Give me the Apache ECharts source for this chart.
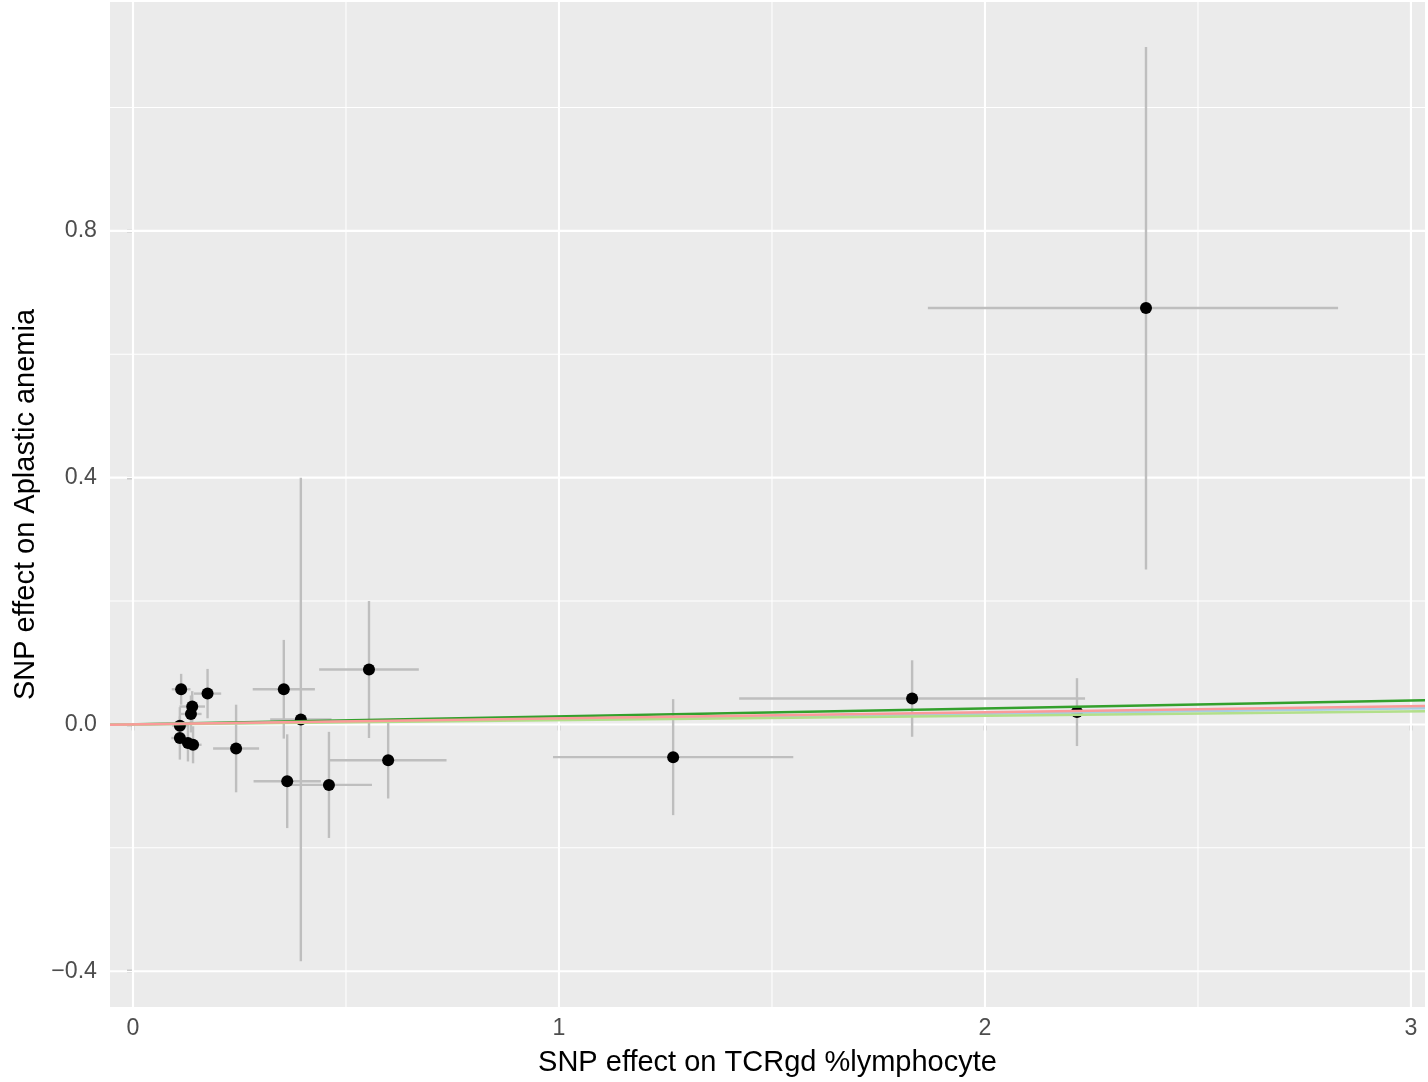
<!DOCTYPE html>
<html>
<head>
<meta charset="utf-8">
<script src="https://cdn.jsdelivr.net/npm/echarts@6/dist/echarts.min.js"></script>
<style>
html,body{margin:0;padding:0;background:#fff;}
#chart{width:1428px;height:1082px;}
</style>
</head>
<body>
<div id="chart"></div>
<script>
// ---- data ----
var snpX  = [0.113, 0.175, 0.139, 0.136, 0.110, 0.110, 0.129, 0.141, 0.242, 0.362, 0.354, 0.394, 0.460, 0.554, 0.599, 1.268, 1.829, 2.216, 2.378];
var snpY  = [0.057, 0.050, 0.029, 0.017, -0.002, -0.022, -0.030, -0.033, -0.039, -0.092, 0.057, 0.008, -0.098, 0.089, -0.058, -0.053, 0.042, 0.020, 0.675];
var xLow  = [0.091, 0.143, 0.109, 0.111, 0.092, 0.090, 0.104, 0.121, 0.188, 0.283, 0.281, 0.322, 0.359, 0.437, 0.462, 0.986, 1.423, 2.116, 1.866];
var xHigh = [0.135, 0.207, 0.169, 0.161, 0.128, 0.130, 0.154, 0.161, 0.296, 0.441, 0.427, 0.466, 0.561, 0.671, 0.736, 1.550, 2.235, 2.316, 2.829];
var yLow  = [0.032, 0.010, 0.004, -0.013, -0.032, -0.057, -0.060, -0.063, -0.110, -0.168, -0.023, -0.384, -0.184, -0.022, -0.120, -0.147, -0.020, -0.035, 0.251];
var yHigh = [0.082, 0.090, 0.054, 0.047, 0.028, 0.013, 0.000, -0.003, 0.032, -0.016, 0.137, 0.400, -0.012, 0.200, 0.004, 0.041, 0.104, 0.075, 1.098];

var methodNames  = ["Weighted median", "Inverse variance weighted", "Simple mode", "Weighted mode"];
var lineX        = [-0.054, 3.033];
var methodYStart = [-0.0007, -0.0005, -0.0004, -0.0005];
var methodYEnd   = [0.0392, 0.0262, 0.0214, 0.0300];

var xTicks = [0, 1, 2, 3];
var yTicks = [-0.4, 0, 0.4, 0.8];
var xMinor = [0.5, 1.5, 2.5];
var yMinor = [-0.2, 0.2, 0.6, 1.0];

// ---- styles ----
var methodColors = ["#33a02c", "#a6cee3", "#b2df8a", "#fb9a99"];
var FONT = "Liberation Sans, Arial, Helvetica, sans-serif";

var gridData = [];
xTicks.forEach(function(v){ gridData.push([0, v, 1]); });
xMinor.forEach(function(v){ gridData.push([0, v, 0]); });
yTicks.forEach(function(v){ gridData.push([1, v, 1]); });
yMinor.forEach(function(v){ gridData.push([1, v, 0]); });

var errData = snpX.map(function(x, i){ return [x, snpY[i], xLow[i], xHigh[i], yLow[i], yHigh[i]]; });
var ptData  = snpX.map(function(x, i){ return [x, snpY[i]]; });

var series = [];
series.push({
  type: 'custom',
  name: 'grid',
  silent: true,
  z: 1,
  data: gridData,
  encode: {x: -1, y: -1},
  renderItem: function(params, api){
    var cs = params.coordSys;
    var dir = api.value(0), v = api.value(1), major = api.value(2);
    var w = major ? 2.1 : 1.05;
    if (dir === 0) {
      var px = api.coord([v, 0])[0];
      return {type:'line', shape:{x1:px, y1:cs.y, x2:px, y2:cs.y+cs.height}, style:{stroke:'#ffffff', lineWidth:w}};
    } else {
      var py = api.coord([0, v])[1];
      return {type:'line', shape:{x1:cs.x, y1:py, x2:cs.x+cs.width, y2:py}, style:{stroke:'#ffffff', lineWidth:w}};
    }
  }
});
series.push({
  type: 'custom',
  name: 'errorbars',
  silent: true,
  z: 2,
  data: errData,
  encode: {x: 0, y: 1},
  renderItem: function(params, api){
    var x = api.value(0), y = api.value(1);
    var h1 = api.coord([api.value(2), y]), h2 = api.coord([api.value(3), y]);
    var v1 = api.coord([x, api.value(4)]), v2 = api.coord([x, api.value(5)]);
    var st = {stroke:'#BEBEBE', lineWidth:2.4};
    return {type:'group', children:[
      {type:'line', shape:{x1:h1[0], y1:h1[1], x2:h2[0], y2:h2[1]}, style:st},
      {type:'line', shape:{x1:v1[0], y1:v1[1], x2:v2[0], y2:v2[1]}, style:st}
    ]};
  }
});
series.push({
  type: 'scatter',
  name: 'SNPs',
  silent: true,
  z: 3,
  symbol: 'circle',
  symbolSize: 12,
  itemStyle: {color: '#000000', opacity: 1},
  data: ptData
});
methodNames.forEach(function(name, i){
  series.push({
    type: 'line',
    name: name,
    silent: true,
    z: 4 + i,
    showSymbol: false,
    symbol: 'none',
    clip: true,
    lineStyle: {color: methodColors[i], width: 2.5},
    data: [[lineX[0], methodYStart[i]], [lineX[1], methodYEnd[i]]]
  });
});

function fmtY(v){
  var s = (Math.round(v*10)/10).toFixed(1);
  return s.replace('-', '\u2212');
}

var chart = echarts.init(document.getElementById('chart'), null, {renderer: 'canvas'});
chart.setOption({
  animation: false,
  backgroundColor: '#ffffff',
  textStyle: {fontFamily: FONT},
  grid: {left: 110, right: 3, top: 2, bottom: 74, show: true, backgroundColor: '#EBEBEB', borderWidth: 0, containLabel: false},
  xAxis: {
    type: 'value',
    min: -0.054, max: 3.033,
    name: 'SNP effect on TCRgd %lymphocyte',
    nameLocation: 'middle',
    nameGap: 41,
    nameTextStyle: {fontSize: 29, color: '#000000', fontFamily: FONT},
    axisLine: {show: false},
    splitLine: {show: false},
    axisTick: {show: true, length: 6, lineStyle: {color: '#333333', width: 2.2}, customValues: xTicks},
    axisLabel: {show: true, customValues: xTicks, margin: 10, fontSize: 23.2, color: '#4D4D4D', fontFamily: FONT,
      formatter: function(v){ return String(Math.round(v)); }}
  },
  yAxis: {
    type: 'value',
    min: -0.458, max: 1.171,
    name: 'SNP effect on Aplastic anemia',
    nameLocation: 'middle',
    nameGap: 64,
    nameTextStyle: {fontSize: 29, color: '#000000', fontFamily: FONT},
    axisLine: {show: false},
    splitLine: {show: false},
    axisTick: {show: true, length: 6, lineStyle: {color: '#333333', width: 2.2}, customValues: yTicks},
    axisLabel: {show: true, customValues: yTicks, margin: 13, fontSize: 23.2, color: '#4D4D4D', fontFamily: FONT,
      formatter: fmtY}
  },
  series: series
});
</script>
</body>
</html>
